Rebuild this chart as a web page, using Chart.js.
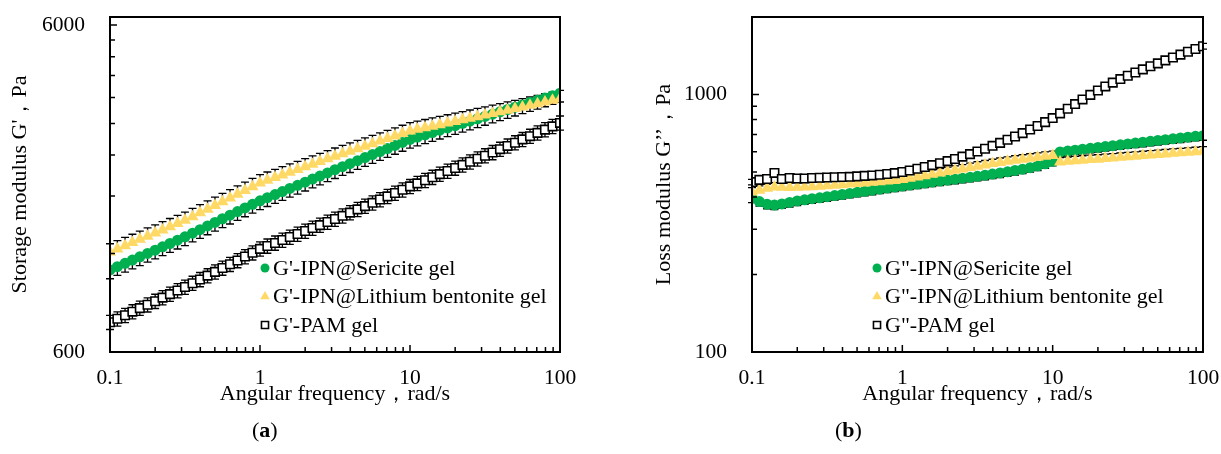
<!DOCTYPE html>
<html>
<head>
<meta charset="utf-8">
<script src="https://cdn.jsdelivr.net/npm/chart.js@4"></script>
<style>
  body { margin: 0; background: #fff; }
  #wrap { position: relative; width: 1221px; height: 454px; }
  canvas { position: absolute; top: 0; }
  #chartA { left: 0; }
  #chartB { left: 610px; }
  .tag { position: absolute; top: 417px; font: 22px "Liberation Serif", serif; color: #000; }
</style>
</head>
<body>
<div id="wrap">
  <canvas id="chartA" width="610" height="454"></canvas>
  <canvas id="chartB" width="611" height="454"></canvas>
  <div class="tag" style="left:252px">(<b>a</b>)</div>
  <div class="tag" style="left:835px">(<b>b</b>)</div>
</div>
<script>
// angular frequency, rad/s
const freq = [0.1, 0.112, 0.126, 0.141, 0.158, 0.178, 0.2, 0.224, 0.251, 0.282,
    0.316, 0.355, 0.398, 0.447, 0.501, 0.562, 0.631, 0.708, 0.794, 0.891,
    1, 1.12, 1.26, 1.41, 1.58, 1.78, 2, 2.24, 2.51, 2.82,
    3.16, 3.55, 3.98, 4.47, 5.01, 5.62, 6.31, 7.08, 7.94, 8.91,
    10, 11.2, 12.6, 14.1, 15.8, 17.8, 20, 22.4, 25.1, 28.2,
    31.6, 35.5, 39.8, 44.7, 50.1, 56.2, 63.1, 70.8, 79.4, 89.1,
    100];

// storage modulus G', Pa
const storageSericite = [1069, 1094, 1120, 1146, 1173, 1201, 1229, 1258, 1288, 1318,
    1350, 1385, 1420, 1457, 1494, 1533, 1572, 1613, 1654, 1697,
    1740, 1778, 1817, 1857, 1898, 1940, 1983, 2027, 2071, 2117,
    2165, 2212, 2259, 2308, 2358, 2409, 2461, 2514, 2568, 2623,
    2680, 2724, 2768, 2813, 2859, 2906, 2953, 3001, 3050, 3100,
    3150, 3202, 3254, 3308, 3362, 3417, 3473, 3530, 3588, 3647,
    3710];
const storageLithium = [1213, 1240, 1268, 1297, 1326, 1356, 1386, 1417, 1449, 1482,
    1516, 1556, 1598, 1640, 1684, 1729, 1775, 1822, 1871, 1921,
    1972, 2010, 2048, 2087, 2127, 2167, 2209, 2251, 2293, 2337,
    2380, 2423, 2466, 2510, 2555, 2601, 2648, 2695, 2744, 2793,
    2845, 2877, 2909, 2941, 2974, 3008, 3041, 3076, 3110, 3145,
    3180, 3217, 3254, 3292, 3330, 3369, 3408, 3448, 3488, 3529,
    3570];
const storagePAM = [740, 758, 777, 797, 817, 837, 858, 880, 902, 925,
    948, 974, 1000, 1027, 1055, 1084, 1113, 1143, 1175, 1207,
    1240, 1266, 1293, 1320, 1348, 1377, 1406, 1436, 1466, 1498,
    1530, 1565, 1601, 1638, 1676, 1715, 1755, 1795, 1837, 1880,
    1925, 1967, 2010, 2054, 2099, 2145, 2192, 2240, 2289, 2339,
    2390, 2445, 2502, 2560, 2619, 2680, 2742, 2806, 2871, 2938,
    3010];

// loss modulus G'', Pa
const lossSericite = [396, 384, 375, 372, 376, 381, 386, 390, 394, 397,
    401, 405, 409, 413, 417, 421, 425, 429, 433, 437,
    441, 445, 449, 453, 457, 461, 465, 469, 473, 477,
    481, 486, 491, 496, 501, 507, 513, 520, 528, 538,
    550, 598, 603, 608, 613, 618, 623, 628, 633, 638,
    643, 648, 653, 658, 663, 668, 673, 678, 683, 688,
    692];
const lossLithium = [418, 425, 432, 437, 436, 435, 436, 437, 438, 440,
    442, 444, 446, 449, 451, 453, 456, 458, 461, 464,
    468, 473, 478, 484, 490, 496, 502, 508, 514, 521,
    527, 533, 539, 545, 551, 556, 561, 566, 571, 576,
    580, 547, 550, 553, 556, 559, 561, 564, 567, 570,
    573, 576, 579, 582, 585, 588, 591, 594, 597, 600,
    603];
const lossPAM = [457, 466, 470, 496, 470, 474, 472, 472, 474, 475,
    476, 477, 478, 479, 481, 483, 485, 488, 491, 495,
    500, 507, 515, 523, 532, 541, 551, 562, 574, 587,
    601, 616, 632, 649, 667, 687, 708, 731, 755, 781,
    810, 845, 880, 918, 957, 997, 1037, 1075, 1112, 1148,
    1183, 1218, 1252, 1287, 1321, 1357, 1393, 1429, 1466, 1503,
    1540];

// tick labels
const freqTicks = [0.1, 1, 10, 100];
const storageTicks = [600, 6000];
const lossTicks = [100, 1000];

const labelsA = ["G'-IPN@Sericite gel", "G'-IPN@Lithium bentonite gel", "G'-PAM gel"];
const labelsB = ['G"-IPN@Sericite gel', 'G"-IPN@Lithium bentonite gel', 'G"-PAM gel'];

const FONT = '"Liberation Serif", "Times New Roman", serif';
Chart.defaults.font.family = FONT;
Chart.defaults.font.size = 22;
Chart.defaults.color = '#000';

function toPoints(values) {
    return values.map((v, i) => ({x: freq[i], y: v}));
}

// vertical error bars, relative size set on each dataset
const errorBars = {
    id: 'errorBars',
    beforeDatasetsDraw(chart) {
        const ctx = chart.ctx;
        const y = chart.scales.y;
        ctx.save();
        ctx.strokeStyle = '#000';
        ctx.lineWidth = 1.3;
        chart.data.datasets.forEach((ds, i) => {
            chart.getDatasetMeta(i).data.forEach((pt, j) => {
                const v = ds.data[j].y;
                const ends = [];
                if (ds.errUp) ends.push(y.getPixelForValue(v * (1 + ds.errUp)));
                if (ds.errDown) ends.push(y.getPixelForValue(v * (1 - ds.errDown)));
                ends.forEach(e => {
                    ctx.beginPath();
                    ctx.moveTo(pt.x, pt.y);
                    ctx.lineTo(pt.x, e);
                    ctx.moveTo(pt.x - 4, e);
                    ctx.lineTo(pt.x + 4, e);
                    ctx.stroke();
                });
            });
        });
        ctx.restore();
    }
};

// box frame with inward tick marks
const frameTicks = {
    id: 'frameTicks',
    afterDraw(chart, args, opts) {
        const ctx = chart.ctx;
        const a = chart.chartArea;
        const {x, y} = chart.scales;
        ctx.save();
        ctx.strokeStyle = '#000';
        ctx.lineWidth = 1.5;
        ctx.beginPath();
        for (let d = 0.1; d < 99; d *= 10) {
            for (let k = 1; k <= 10; k++) {
                const px = x.getPixelForValue(d * k);
                const len = (k === 1 || k === 10) ? 7 : 5;
                ctx.moveTo(px, a.bottom);
                ctx.lineTo(px, a.bottom - len);
            }
        }
        for (let k = 1; k <= 10; k++) {
            const py = y.getPixelForValue(opts.yBase * k);
            const len = (k === 1 || k === 10) ? 7 : 5;
            ctx.moveTo(a.left, py);
            ctx.lineTo(a.left + len, py);
        }
        ctx.stroke();
        ctx.lineWidth = 2;
        ctx.strokeRect(a.left, a.top, a.right - a.left, a.bottom - a.top);
        ctx.restore();
    }
};

// legend drawn inside the plot area
const insideLegend = {
    id: 'insideLegend',
    afterDraw(chart, args, opts) {
        const ctx = chart.ctx;
        ctx.save();
        ctx.font = '22px ' + FONT;
        ctx.textBaseline = 'middle';
        chart.data.datasets.forEach((ds, i) => {
            const yy = opts.top + i * opts.gap;
            ctx.fillStyle = ds.backgroundColor;
            ctx.strokeStyle = ds.borderColor;
            ctx.lineWidth = ds.borderWidth;
            Chart.helpers.drawPoint(ctx, {
                pointStyle: ds.pointStyle,
                radius: opts.sizes[i],
                borderWidth: ds.borderWidth,
                rotation: 0
            }, opts.left, yy);
            ctx.fillStyle = '#000';
            ctx.fillText(ds.label, opts.left + 8, yy + 1);
        });
        ctx.restore();
    }
};

function makeDatasets(labels, green, yellow, black, err) {
    return [{
        label: labels[0],
        data: toPoints(green),
        pointStyle: 'circle',
        pointRadius: 5.5,
        backgroundColor: '#00B050',
        borderColor: '#00B050',
        borderWidth: 0,
        errDown: err[0],
        order: 3
    }, {
        label: labels[1],
        data: toPoints(yellow),
        pointStyle: 'triangle',
        pointRadius: 7,
        backgroundColor: '#FFD966',
        borderColor: '#FFD966',
        borderWidth: 0,
        errUp: err[1],
        order: 2
    }, {
        label: labels[2],
        data: toPoints(black),
        pointStyle: 'rect',
        pointRadius: 6,
        backgroundColor: '#FFFFFF',
        borderColor: '#000000',
        borderWidth: 1.6,
        errUp: err[2],
        errDown: err[2],
        order: 1
    }];
}

function makeConfig(datasets, yMin, yMax, yTicks, yTitle, yWidth, titlePad, padRight, legendLeft) {
    return {
        type: 'scatter',
        data: {datasets: datasets},
        options: {
            responsive: false,
            animation: false,
            devicePixelRatio: 1,
            layout: {padding: {top: 17, right: padRight, bottom: 0, left: 0}},
            elements: {point: {hoverRadius: 6}},
            scales: {
                x: {
                    type: 'logarithmic',
                    min: 0.1,
                    max: 100,
                    afterBuildTicks: s => { s.ticks = freqTicks.map(v => ({value: v})); },
                    afterFit: s => { s.height = 102; s.paddingLeft = 0; s.paddingRight = 0; },
                    grid: {display: false, drawTicks: false},
                    border: {display: false},
                    ticks: {autoSkip: false, maxRotation: 0, padding: 13, font: {size: 21.5}, callback: v => String(v)},
                    title: {display: true, text: 'Angular frequency，rad/s', padding: {top: 0, bottom: 47}}
                },
                y: {
                    type: 'logarithmic',
                    min: yMin,
                    max: yMax,
                    afterBuildTicks: s => { s.ticks = yTicks.map(v => ({value: v})); },
                    afterFit: s => { s.width = yWidth; s.paddingTop = 0; s.paddingBottom = 0; },
                    grid: {display: false, drawTicks: false},
                    border: {display: false},
                    ticks: {autoSkip: false, padding: 25, font: {size: 21.5}, callback: v => String(v)},
                    title: {display: true, text: yTitle, padding: {top: titlePad, bottom: 0}}
                }
            },
            plugins: {
                legend: {display: false},
                tooltip: {enabled: false},
                frameTicks: {yBase: yMin},
                insideLegend: {left: legendLeft, top: 268, gap: 28.5, sizes: [4.5, 5.5, 5]}
            }
        },
        plugins: [errorBars, frameTicks, insideLegend]
    };
}

const dataStorage = makeDatasets(labelsA, storageSericite, storageLithium, storagePAM, [0.06, 0.06, 0.05]);
const dataLoss = makeDatasets(labelsB, lossSericite, lossLithium, lossPAM, [0.04, 0.04, 0.025]);

let chartA = new Chart(document.getElementById('chartA'),
    makeConfig(dataStorage, 600, 6345, storageTicks, "Storage modulus G'，Pa", 110, 7, 50, 265));
let chartB = new Chart(document.getElementById('chartB'),
    makeConfig(dataLoss, 100, 2000, lossTicks, 'Loss modulus G’’，Pa', 142, 41, 18, 267));
</script>
</body>
</html>
